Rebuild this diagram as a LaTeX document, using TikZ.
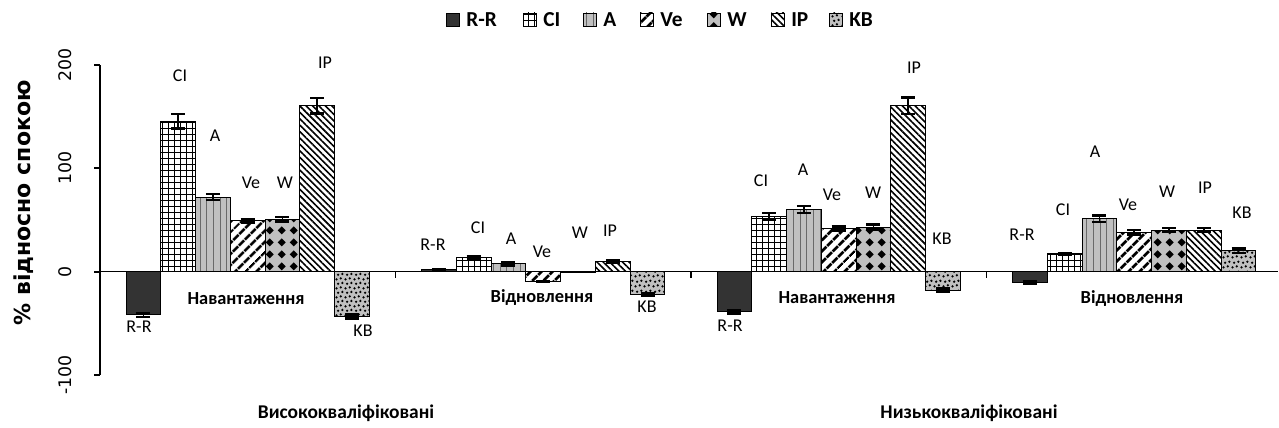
\documentclass[tikz,border=0pt]{standalone}
\usepackage{fontspec}
\setmainfont{Carlito}
\newfontfamily\dejavu{DejaVu Sans}
\usetikzlibrary{patterns,patterns.meta}

\definecolor{rrgray}{RGB}{51,51,51}
\definecolor{lightfill}{RGB}{192,192,192}
\definecolor{linegray}{RGB}{105,105,105}

% black diamonds on grey (W)
\pgfdeclarepatternformonly{wdiamonds}{\pgfpointorigin}{\pgfpoint{9pt}{9pt}}{\pgfpoint{9pt}{9pt}}{%
  \pgfpathmoveto{\pgfpoint{4.5pt}{1.3pt}}%
  \pgfpathlineto{\pgfpoint{7.7pt}{4.5pt}}%
  \pgfpathlineto{\pgfpoint{4.5pt}{7.7pt}}%
  \pgfpathlineto{\pgfpoint{1.3pt}{4.5pt}}%
  \pgfpathclose
  \pgfusepath{fill}}
% confetti (KB)
\pgfdeclarepatternformonly{kbdots}{\pgfpointorigin}{\pgfpoint{7pt}{7pt}}{\pgfpoint{7pt}{7pt}}{%
  \pgfpathcircle{\pgfpoint{1.2pt}{1.3pt}}{1pt}%
  \pgfpathcircle{\pgfpoint{4.6pt}{2.1pt}}{1pt}%
  \pgfpathcircle{\pgfpoint{2.5pt}{4.9pt}}{1pt}%
  \pgfpathcircle{\pgfpoint{5.9pt}{5.6pt}}{1pt}%
  \pgfusepath{fill}}

\tikzset{
  bar/.style={draw=black,line width=0.75pt},
  barRR/.style={bar,fill=rrgray},
  barCI/.style={bar,preaction={fill=white},pattern={Hatch[distance=4.5pt,line width=0.55pt]}},
  barA/.style={bar,preaction={fill=lightfill},pattern={Lines[angle=90,distance=5pt,line width=0.6pt]},pattern color=linegray},
  barVe/.style={bar,preaction={fill=white},pattern={Lines[angle=45,distance=6.5pt,line width=2.4pt]}},
  barW/.style={bar,preaction={fill=lightfill},pattern=wdiamonds},
  barIP/.style={bar,preaction={fill=white},pattern={Lines[angle=-45,distance=3.4pt,line width=1.2pt]}},
  barKB/.style={bar,preaction={fill=lightfill},pattern=kbdots},
  errline/.style={line width=1.2pt},
  errcap/.style={line width=1.9pt},
  lab/.style={font=\fontsize{13.5}{15}\selectfont,inner sep=0pt},
  leg/.style={font=\fontsize{16}{18}\bfseries,anchor=west,inner sep=0pt},
  grp/.style={font=\fontsize{13.8}{16}\selectfont\bfseries,inner sep=0pt},
  cat/.style={font=\fontsize{14.6}{17}\selectfont\bfseries,inner sep=0pt},
  ticklab/.style={font=\dejavu\fontsize{13}{15}\selectfont,rotate=90,inner sep=0pt}
}

\begin{document}
\begin{tikzpicture}[x=0.75pt,y=-0.75pt]
  \useasboundingbox (0,0) rectangle (1279,428);

  % legend
  \foreach \t/\x/\s [count=\n] in {R-R/446/barRR,CI/523/barCI,A/583/barA,Ve/640/barVe,W/707/barW,IP/771/barIP,KB/829/barKB}{
    \draw[\s,line width=0.6pt] (\x,13) rectangle ++(13,13);
    \node[leg] (leg\n) at (\x+20,19.5) {\t};
  }

  % bars, data in % of rest
  \begin{scope}[shift={(0,271.5)},y=0.776pt]
    \foreach \k/\vals in {
      0/{-42/2/barRR,145/7/barCI,72/3/barA,49/1.5/barVe,50.5/2/barW,160/7.5/barIP,-43.5/2/barKB},
      1/{1.5/0.5/barRR,13.5/1.5/barCI,7.5/1.5/barA,-9.5/0.5/barVe,-0.5/0.2/barW,9.5/1.2/barIP,-22/1/barKB},
      2/{-39/1.5/barRR,53.5/3/barCI,60/3.5/barA,41.5/2/barVe,43/2.5/barW,160/8/barIP,-18/1.5/barKB},
      3/{-10.5/1/barRR,17/1/barCI,51/3/barA,38/2/barVe,40/2/barW,40/2/barIP,20/2/barKB}}{
      \foreach \v/\e/\s [count=\i from 0] in \vals{
        \pgfmathsetmacro\xa{126.07+295.5*\k+34.76*\i}
        \pgfmathsetmacro\xb{\xa+34.76}
        \pgfmathsetmacro\xm{\xa+17.38}
        \draw[\s] (\xa,0) rectangle (\xb,\v);
        \draw[errline] (\xm,\v-\e) -- (\xm,\v+\e);
        \draw[errcap] (\xm-7,\v-\e) -- (\xm+7,\v-\e);
        \draw[errcap] (\xm-7,\v+\e) -- (\xm+7,\v+\e);
      }
    }

    % axes
    \draw[line width=1.1pt] (100,0) -- (1278,0);
    \draw[line width=1.5pt] (100,-100) -- (100,200);
    \foreach \y in {-100,0,100,200}
      \draw[line width=1.5pt] (94,\y) -- (100,\y);
    \foreach \x in {395.5,691,986.5}
      \draw[line width=0.8pt] (\x,0) -- (\x,-6);
    \node[ticklab] (t200) at (65,200) {200};
    \node[ticklab] (t100) at (65,100) {100};
    \node[ticklab] (t0) at (65,0) {0};
    \node[ticklab] (tm100) at (65,-100) {-100};
  \end{scope}

  % bar labels
  \foreach \t/\x/\y [count=\n] in {
      R-R/139/327,CI/180/76,A/215/136,Ve/251/183,W/285/183,IP/325/63,KB/363/331,
      R-R/433/245,CI/478/228,A/511/239,Ve/542/252,W/580/233,IP/610/231,KB/647/307,
      R-R/730/326,CI/761/181,A/803/170,Ve/832/195,W/873/193,IP/914/68,KB/942/239,
      R-R/1022/235,CI/1063/210,A/1095/152,Ve/1128/205,W/1167/192,IP/1205/188,KB/1242/213}
    \node[lab] (lab\n) at (\x,\y) {\t};

  \node[grp] (load1) at (246,299) {Навантаження};
  \node[grp] (rec1) at (542,298) {Відновлення};
  \node[grp] (load2) at (837,298) {Навантаження};
  \node[grp] (rec2) at (1132,299) {Відновлення};

  \node[cat] (high) at (346,413) {Висококваліфіковані};
  \node[cat] (low) at (969,413) {Низькокваліфіковані};

  \node[font=\dejavu\fontsize{16.5}{19}\selectfont\bfseries,rotate=90,inner sep=0pt] (ylab) at (24,203) {\% відносно спокою};
\end{tikzpicture}
\end{document}
